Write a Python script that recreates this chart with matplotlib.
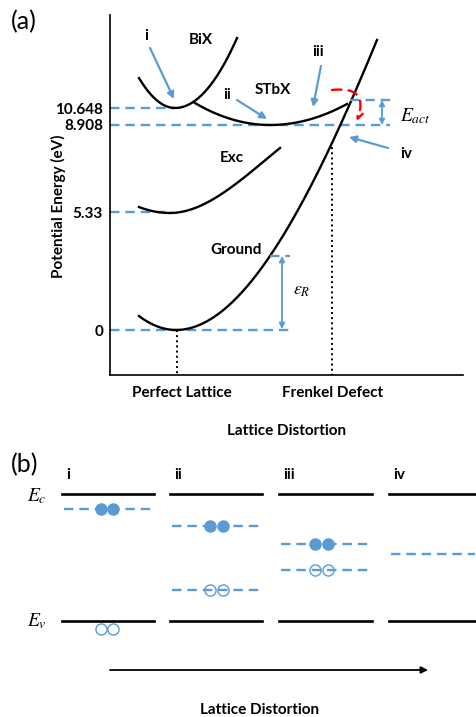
import matplotlib
matplotlib.use('Agg')
import matplotlib.pyplot as plt
import numpy as np

plt.rcParams['font.family'] = ['Lato', 'DejaVu Sans']
plt.rcParams['mathtext.fontset'] = 'stix'

BLUE = '#5B9BD5'
FS = 11

# ---- panel (a) data (sketch coords are pixels, y grows downward) ----
# energy levels on the y axis and where they sit on the sketch
level_labels = ['0', '5.33', '8.908', '10.648']
level_pos = [330, 212, 125, 108]
level_ends = [290, 172, 390, 175]   # where each dashed guide stops

# wells: x start, x end, x of min, y of min, left coef, right coef, right cubic coef
wells = {
    'BiX':    [139, 237, 175, 108, 0.0231, 0.0182, 0.0],
    'STbX':   [195, 347, 270, 125, 0.0039, 0.00354, 0.0],
    'Exc':    [139, 280, 170, 213, 0.0062, 0.00872, -3.04e-5],
    'Ground': [139, 377, 176, 330, 0.0102, 0.00943, -1.12e-5],
}
well_label_pos = {'BiX': (201, 40), 'STbX': (273, 90), 'Exc': (232, 158), 'Ground': (236, 250)}

# pointer arrows: label, label position, arrow start, arrow end
pointers = [
    ('i', (146, 36), (150, 48), (174, 99)),
    ('ii', (227, 95), (237, 100), (267, 119)),
    ('iii', (318, 52), (321, 66), (313, 107)),
    ('iv', (406, 154), (388, 148), (349, 137)),
]

xtick_pos = [182, 333]
xtick_labels = ['Perfect Lattice', 'Frenkel Defect']

# ---- panel (b) data ----
stages = ['i', 'ii', 'iii', 'iv']
stage_x0 = [62, 170, 279, 389]
stage_x1 = [154, 262, 372, 477]
Ec_y = 494
Ev_y = 621
electron_y = [509, 526, 544, 554]
electron_x = [(101, 113), (210, 223), (315, 328), None]
hole_y = [629, 590, 570, None]
hole_on_level = [False, True, True, False]


def well(x, x0, y0, aL, aR, cR):
    dx = x - x0
    return np.where(dx < 0, y0 - aL * dx ** 2, y0 - aR * dx ** 2 - cR * dx ** 3)


fig = plt.figure(figsize=(4.77, 7.17), dpi=100)
W, H = 477, 717

# ================= panel (a) =================
ax = fig.add_axes([110 / W, 1 - 375 / H, (463 - 110) / W, (375 - 15) / H])
ax.set_xlim(110, 463)
ax.set_ylim(375, 15)
ax.spines['top'].set_visible(False)
ax.spines['right'].set_visible(False)
ax.spines['left'].set_linewidth(1.2)
ax.spines['bottom'].set_linewidth(1.2)

ax.set_yticks(level_pos, level_labels, fontsize=FS, fontweight='bold')
ax.set_xticks(xtick_pos, xtick_labels, fontsize=FS, fontweight='bold')
ax.tick_params(axis='y', length=0, pad=5)
ax.tick_params(axis='x', length=0, pad=8)
ax.set_xlabel('Lattice Distortion', fontsize=FS, fontweight='bold', labelpad=17)
ax.set_ylabel('Potential Energy (eV)', fontsize=FS, fontweight='bold')
ax.yaxis.set_label_coords((66 - 110) / 353, (375 - 206) / 360)

dash = (4, 2.5)
for y, xe in zip(level_pos, level_ends):
    ax.plot([110, xe], [y, y], color=BLUE, lw=1.7, dashes=dash, clip_on=False)

for name, (xs, xe, x0, y0, aL, aR, cR) in wells.items():
    xx = np.linspace(xs, xe, 200)
    ax.plot(xx, well(xx, x0, y0, aL, aR, cR), color='black', lw=1.7)
    lx, ly = well_label_pos[name]
    ax.text(lx, ly, name, ha='center', va='center', fontsize=FS, fontweight='bold')

# vertical dotted guides
ax.plot([177, 177], [330, 375], color='black', lw=1.4, ls=':')
ax.plot([332, 332], [142, 375], color='black', lw=1.4, ls=':')

# activation energy
ax.plot([350, 392], [100, 100], color=BLUE, lw=1.7, dashes=dash)
ax.annotate('', xy=(382, 125), xytext=(382, 100),
            arrowprops=dict(arrowstyle='<|-|>', color=BLUE, lw=1.3, mutation_scale=8,
                            shrinkA=0, shrinkB=0))
ax.text(400, 116, r'$E_{act}$', fontsize=14, ha='left', va='center')

# reorganisation energy
ax.plot([270, 290], [256, 256], color=BLUE, lw=1.7, dashes=dash)
ax.annotate('', xy=(282, 329), xytext=(282, 256),
            arrowprops=dict(arrowstyle='<|-|>', color=BLUE, lw=1.3, mutation_scale=8,
                            shrinkA=0, shrinkB=0))
ax.text(293, 291, r'$\varepsilon_R$', fontsize=13, ha='left', va='center')

# red dashed hop
ax.annotate('', xy=(357, 121), xytext=(332, 90),
            arrowprops=dict(arrowstyle='->', color='red', lw=1.7, ls=(0, (4, 3)),
                            connectionstyle='arc3,rad=-0.8', mutation_scale=11,
                            shrinkA=0, shrinkB=0))

for lab, (tx, ty), start, end in pointers:
    ax.text(tx, ty, lab, ha='center', va='center', fontsize=FS, fontweight='bold')
    ax.annotate('', xy=end, xytext=start,
                arrowprops=dict(arrowstyle='-|>', color=BLUE, lw=1.6, mutation_scale=10,
                                shrinkA=0, shrinkB=0))

fig.text(11 / W, 1 - 22 / H, '(a)', fontsize=18, ha='left', va='center')

# ================= panel (b) =================
bx = fig.add_axes([0, 0, 1, (H - 440) / H])
bx.set_xlim(0, W)
bx.set_ylim(H, 440)
bx.axis('off')

fig.text(11 / W, 1 - 465 / H, '(b)', fontsize=18, ha='left', va='center')

for k, st in enumerate(stages):
    x0, x1 = stage_x0[k], stage_x1[k]
    bx.text(x0 + 4, 475, st, ha='left', va='center', fontsize=FS, fontweight='bold')
    bx.plot([x0, x1], [Ec_y, Ec_y], color='black', lw=1.9, clip_on=False)
    bx.plot([x0, x1], [Ev_y, Ev_y], color='black', lw=1.9, clip_on=False)
    bx.plot([x0 + 2, x1 - 2], [electron_y[k], electron_y[k]], color=BLUE, lw=1.7,
            dashes=(4, 2.5), clip_on=False)
    if electron_x[k] is not None:
        bx.plot(electron_x[k], [electron_y[k]] * 2, 'o', color=BLUE, ms=8)
    if hole_y[k] is not None:
        if hole_on_level[k]:
            bx.plot([x0 + 2, x1 - 2], [hole_y[k], hole_y[k]], color=BLUE, lw=1.7,
                    dashes=(4, 2.5))
        bx.plot(electron_x[k], [hole_y[k]] * 2, 'o', mfc='none', mec=BLUE, mew=1.0, ms=8)

bx.text(37, 496, r'$E_c$', fontsize=14, ha='center', va='center')
bx.text(37, 621, r'$E_v$', fontsize=14, ha='center', va='center')

bx.annotate('', xy=(428, 670), xytext=(110, 670),
            arrowprops=dict(arrowstyle='-|>', color='black', lw=1.3, mutation_scale=10,
                            shrinkA=0, shrinkB=0))
bx.text(260, 710, 'Lattice Distortion', ha='center', va='center', fontsize=FS,
        fontweight='bold')

plt.savefig('out.png', dpi=100)
